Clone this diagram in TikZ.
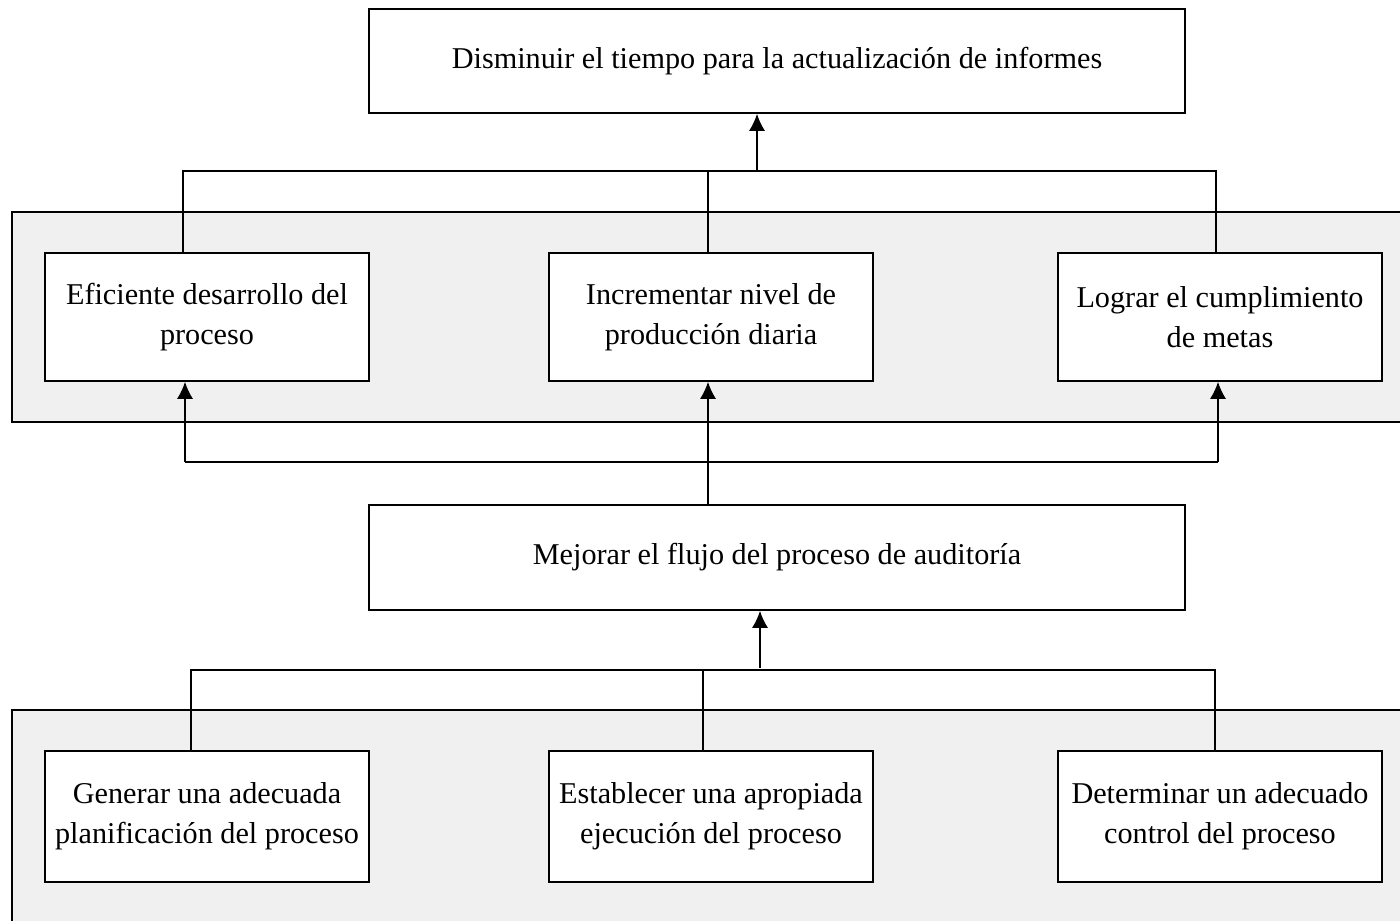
\documentclass[tikz,border=0pt]{standalone}
\usepackage{fontspec}
\setmainfont{Liberation Serif}
\usetikzlibrary{arrows.meta}
\definecolor{panelgray}{HTML}{F0F0F0}
\tikzset{
  caja/.style={draw, fill=white, line width=0.9pt, align=center, inner sep=2pt,
    font=\fontsize{17.2}{22.8}\selectfont},
  fila/.style={minimum width=6.48cm, minimum height=2.56cm},
  ancha/.style={minimum width=16.32cm, minimum height=2.08cm},
  linea/.style={line width=0.9pt},
}
\begin{document}
\begin{tikzpicture}[x=0.02cm, y=-0.02cm, >={Latex[length=0.34cm,width=0.32cm]}]
        \useasboundingbox (0,0) rectangle (1400,921);

        % paneles grises
        \fill[panelgray] (12,212) rectangle (1400,422);
        \draw[linea] (1400,212) -- (12,212) -- (12,422) -- (1400,422);
        \fill[panelgray] (12,710) rectangle (1400,921);
        \draw[linea] (1400,710) -- (12,710) -- (12,921);

        \node[caja, ancha] (fin) at (777,61) {Disminuir el tiempo para la actualización de informes};
        \node[caja, fila] (e1) at (207,317) {Eficiente desarrollo del\\proceso};
        \node[caja, fila] (e2) at (711,317) {Incrementar nivel de\\producción diaria};
        \node[caja, fila] (e3) at (1220,317) {Lograr el cumplimiento\\de metas};
        \node[caja, ancha, minimum height=2.1cm] (prop) at (777,557.5) {Mejorar el flujo del proceso de auditoría};
        \node[caja, fila, minimum height=2.62cm] (m1) at (207,816.5) {Generar una adecuada\\planificación del proceso};
        \node[caja, fila, minimum height=2.62cm] (m2) at (711,816.5) {Establecer una apropiada\\ejecución del proceso};
        \node[caja, fila, minimum height=2.62cm] (m3) at (1220,816.5) {Determinar un adecuado\\control del proceso};

        % efectos hacia el fin
        \coordinate (a) at (757,171);
        \coordinate (b1) at (183,171);
        \coordinate (b2) at (708,171);
        \coordinate (b3) at (1216,171);
        \draw[linea] (e1.north -| b1) -- (b1) -- (b3) -- (e3.north -| b3);
        \draw[linea] (e2.north -| b2) -- (b2);
        \draw[linea, ->] (a) -- (fin.south -| a);

        % proposito hacia los efectos
        \coordinate (c1) at (185,462);
        \coordinate (c2) at (708,462);
        \coordinate (c3) at (1218,462);
        \draw[linea] (c1) -- (c3);
        \draw[linea, ->] (c1) -- (e1.south -| c1);
        \draw[linea, ->] (c3) -- (e3.south -| c3);
        \draw[linea, ->] (prop.north -| c2) -- (e2.south -| c2);

        % medios hacia el proposito
        \coordinate (d) at (760,668);
        \coordinate (d1) at (191,670);
        \coordinate (d2) at (703,670);
        \coordinate (d3) at (1215,670);
        \draw[linea] (m1.north -| d1) -- (d1) -- (d3) -- (m3.north -| d3);
        \draw[linea] (m2.north -| d2) -- (d2);
        \draw[linea, ->] (d) -- (prop.south -| d);
      \end{tikzpicture}
\end{document}
